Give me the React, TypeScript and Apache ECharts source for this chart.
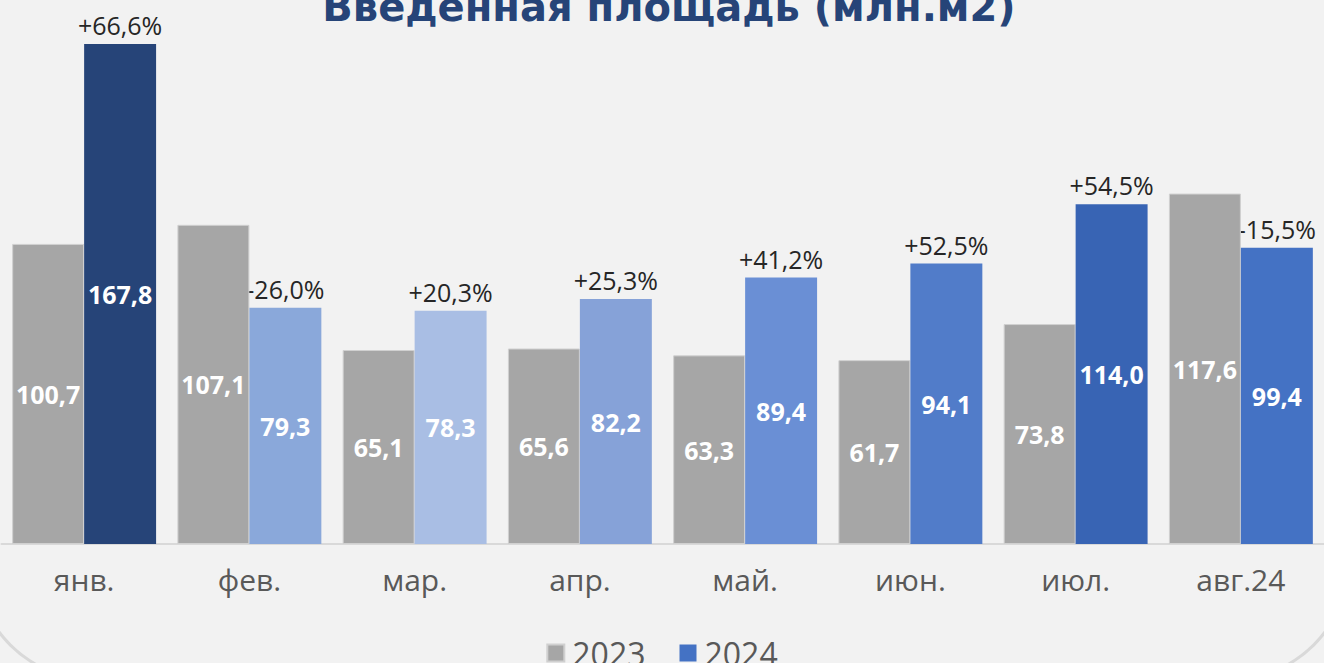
import React, { useEffect, useRef } from "react";
import * as echarts from "echarts";

const categories = ["янв.", "фев.", "мар.", "апр.", "май.", "июн.", "июл.", "авг.24"];
const values2023 = [100.7, 107.1, 65.1, 65.6, 63.3, 61.7, 73.8, 117.6];
const values2024 = [167.8, 79.3, 78.3, 82.2, 89.4, 94.1, 114.0, 99.4];
const changeLabels = ["+66,6%", "-26,0%", "+20,3%", "+25,3%", "+41,2%", "+52,5%", "+54,5%", "-15,5%"];
const colors2024 = ["#264478", "#8aa8da", "#a9bee4", "#86a2d8", "#6a8fd5", "#517cc9", "#3864b4", "#4472c4"];

const GAP = 0.129;
const FONT = "'Open Sans', 'Noto Sans', sans-serif";

export default function App() {
  const ref = useRef<HTMLDivElement>(null);
  useEffect(() => {
    if (!ref.current) return;
    const chart = echarts.init(ref.current, null, { renderer: "svg" });
    const fmt = (v: number) => v.toFixed(1).replace(".", ",");
    chart.setOption({
      animation: false,
      backgroundColor: "#f2f2f2",
      title: {
        text: "Введенная площадь (млн.м2)",
        left: 664,
        textAlign: "center",
        top: -18,
        textStyle: { color: "#264478", fontSize: 40, fontWeight: "bold", fontFamily: "'DejaVu Sans', sans-serif" },
      },
      graphic: [
        {
          type: "rect",
          z: -10,
          silent: true,
          shape: { x: -25, y: -200, width: 1374, height: 880, r: 120 },
          style: { fill: "#f2f2f2", stroke: "#d9d9d9", lineWidth: 3 },
        },
      ],
      legend: {
        top: 632,
        left: "center",
        itemWidth: 17,
        itemHeight: 17,
        itemGap: 34,
        icon: "rect",
        textStyle: { color: "#595959", fontSize: 32, fontFamily: FONT, padding: [0, 0, 0, 3] },
        data: ["2023", "2024"],
      },
      grid: { left: 1.5, right: 0.5, top: 7.6, bottom: 119, containLabel: false },
      xAxis: {
        type: "category",
        data: categories,
        axisLine: { lineStyle: { color: "#d9d9d9", width: 2 } },
        axisTick: { show: false },
        axisLabel: { color: "#595959", fontSize: 30, fontFamily: FONT, margin: 20 },
      },
      yAxis: {
        type: "value",
        min: 0,
        max: 180,
        show: false,
        splitLine: { show: false },
      },
      series: [
        {
          name: "2023",
          type: "bar",
          data: values2023,
          barGap: "0%",
          barCategoryGap: GAP * 100 + "%",
          itemStyle: { color: "#a6a6a6", borderColor: "#d0d0d0", borderWidth: 1 },
          label: {
            show: true,
            position: "inside",
            color: "#ffffff",
            fontSize: 25,
            fontWeight: "bold",
            fontFamily: FONT,
            formatter: (p: any) => fmt(p.value),
          },
        },
        {
          name: "2024",
          type: "bar",
          color: "#4472c4",
          data: values2024.map((v, i) => ({ value: v, itemStyle: { color: colors2024[i] } })),
          label: {
            show: true,
            position: "inside",
            color: "#ffffff",
            fontSize: 25,
            fontWeight: "bold",
            fontFamily: FONT,
            formatter: (p: any) => fmt(p.value),
          },
        },
        {
          name: "change",
          type: "custom",
          data: values2024.map((v, i) => [i, v]),
          renderItem: (params: any, api: any) => {
            const idx = api.value(0);
            const v = api.value(1);
            const p = api.coord([idx, v]);
            const band = api.size([1, 0])[0];
            const barW = (band * (1 - GAP)) / 2;
            return {
              type: "text",
              x: p[0] + barW / 2,
              y: p[1] - 19,
              style: {
                text: changeLabels[idx],
                align: "center",
                verticalAlign: "middle",
                fill: "#262626",
                fontSize: 25,
                fontFamily: FONT,
              },
            };
          },
        },
      ],
    });
    return () => chart.dispose();
  }, []);
  return (
    <div
      ref={ref}
      style={{ position: "absolute", left: 0, top: 0, width: 1324, height: 663, background: "#f2f2f2" }}
    />
  );
}
